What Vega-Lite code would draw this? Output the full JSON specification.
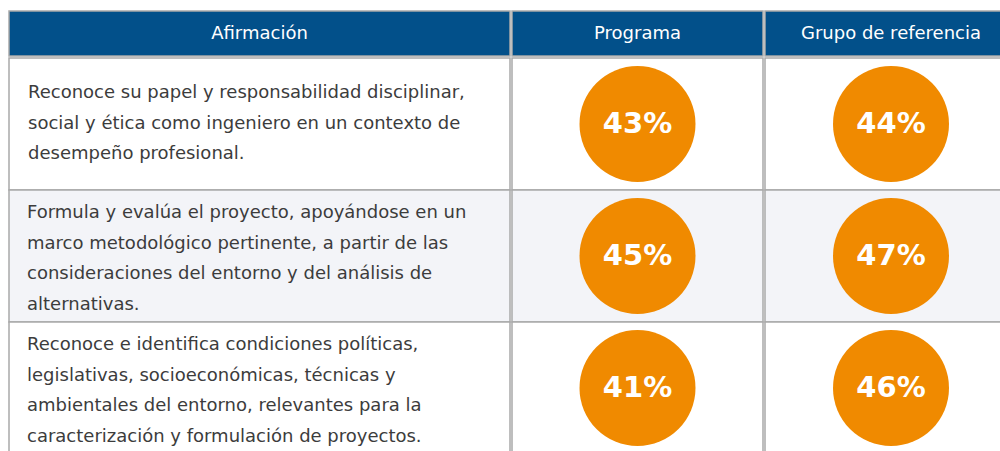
{
  "$schema": "https://vega.github.io/schema/vega-lite/v6.json",
  "padding": {"left": 8, "top": 10, "right": 0, "bottom": 0},
  "background": "#ffffff",
  "spacing": 0,
  "config": {"view": {"stroke": null}, "concat": {"spacing": 0}, "font": "DejaVu Sans"},
  "datasets": {
    "filas": [
      {"orden": 1, "lineas": 3, "afirmacion": "Reconoce su papel y responsabilidad disciplinar,\nsocial y ética como ingeniero en un contexto de\ndesempeño profesional.", "programa": 0.43, "grupo": 0.44},
      {"orden": 2, "lineas": 4, "afirmacion": "Formula y evalúa el proyecto, apoyándose en un\nmarco metodológico pertinente, a partir de las\nconsideraciones del entorno y del análisis de\nalternativas.", "programa": 0.45, "grupo": 0.47},
      {"orden": 3, "lineas": 4, "afirmacion": "Reconoce e identifica condiciones políticas,\nlegislativas, socioeconómicas, técnicas y\nambientales del entorno, relevantes para la\ncaracterización y formulación de proyectos.", "programa": 0.41, "grupo": 0.46}
    ]
  },
  "vconcat": [
    {
      "hconcat": [
        {
          "width": 501, "height": 45,
          "data": {"values": [{"titulo": "Afirmación"}]},
          "layer": [
            {"mark": {"type": "rect", "fill": "#02508a", "stroke": "#a9a9a9", "strokeWidth": 1.5}, "encoding": {"x": {"value": 0}, "x2": {"value": "width"}, "y": {"value": 0}, "y2": {"value": "height"}}},
            {"mark": {"type": "text", "color": "#ffffff", "fontSize": 18, "baseline": "middle", "align": "center"}, "encoding": {"text": {"field": "titulo"}, "y": {"value": 23}}}
          ]
        },
        {
          "width": 251, "height": 45,
          "data": {"values": [{"titulo": "Programa"}]},
          "layer": [
            {"mark": {"type": "rect", "fill": "#02508a", "stroke": "#a9a9a9", "strokeWidth": 1.5}, "encoding": {"x": {"value": 0}, "x2": {"value": "width"}, "y": {"value": 0}, "y2": {"value": "height"}}},
            {"mark": {"type": "text", "color": "#ffffff", "fontSize": 18, "baseline": "middle", "align": "center"}, "encoding": {"text": {"field": "titulo"}, "y": {"value": 23}}}
          ]
        },
        {
          "width": 240, "height": 45,
          "data": {"values": [{"titulo": "Grupo de referencia"}]},
          "layer": [
            {"mark": {"type": "rect", "fill": "#02508a", "stroke": "#a9a9a9", "strokeWidth": 1.5}, "encoding": {"x": {"value": 0}, "x2": {"value": "width"}, "y": {"value": 0}, "y2": {"value": "height"}}},
            {"mark": {"type": "text", "color": "#ffffff", "fontSize": 18, "baseline": "middle", "align": "center", "dx": 6}, "encoding": {"text": {"field": "titulo"}, "y": {"value": 23}}}
          ]
        }
      ]
    },
    {
      "hconcat": [
        {
          "width": 501, "height": 396,
          "data": {"name": "filas"},
          "encoding": {"y": {"field": "orden", "type": "ordinal", "axis": null, "scale": {"paddingInner": 0, "paddingOuter": 0}}},
          "layer": [
            {"mark": {"type": "rect", "stroke": "#a9a9a9", "strokeWidth": 1.5}, "encoding": {"x": {"value": 0}, "x2": {"value": "width"}, "fill": {"condition": {"test": "datum.orden == 2", "value": "#f3f4f8"}, "value": "#ffffff"}}},
            {"transform": [{"filter": "datum.lineas == 3"}], "mark": {"type": "text", "color": "#3c3c3c", "fontSize": 18, "align": "left", "baseline": "middle", "lineBreak": "\n", "lineHeight": 30.5, "dy": -31}, "encoding": {"x": {"value": 19}, "text": {"field": "afirmacion"}}},
            {"transform": [{"filter": "datum.lineas == 4"}], "mark": {"type": "text", "color": "#3c3c3c", "fontSize": 18, "align": "left", "baseline": "middle", "lineBreak": "\n", "lineHeight": 30.5, "dy": -43}, "encoding": {"x": {"value": 18}, "text": {"field": "afirmacion"}}}
          ]
        },
        {
          "width": 251, "height": 396,
          "data": {"name": "filas"},
          "encoding": {"y": {"field": "orden", "type": "ordinal", "axis": null, "scale": {"paddingInner": 0, "paddingOuter": 0}}},
          "layer": [
            {"mark": {"type": "rect", "stroke": "#a9a9a9", "strokeWidth": 1.5}, "encoding": {"x": {"value": 0}, "x2": {"value": "width"}, "fill": {"condition": {"test": "datum.orden == 2", "value": "#f3f4f8"}, "value": "#ffffff"}}},
            {"mark": {"type": "point", "shape": "circle", "filled": true, "size": 13456, "color": "#f08a00", "opacity": 1}, "encoding": {}},
            {"mark": {"type": "text", "color": "#ffffff", "fontSize": 29, "fontWeight": "bold", "baseline": "middle", "align": "center"}, "encoding": {"text": {"field": "programa", "type": "quantitative", "format": ".0%"}}}
          ]
        },
        {
          "width": 240, "height": 396,
          "data": {"name": "filas"},
          "encoding": {"y": {"field": "orden", "type": "ordinal", "axis": null, "scale": {"paddingInner": 0, "paddingOuter": 0}}},
          "layer": [
            {"mark": {"type": "rect", "stroke": "#a9a9a9", "strokeWidth": 1.5}, "encoding": {"x": {"value": 0}, "x2": {"value": "width"}, "fill": {"condition": {"test": "datum.orden == 2", "value": "#f3f4f8"}, "value": "#ffffff"}}},
            {"mark": {"type": "point", "shape": "circle", "filled": true, "size": 13456, "color": "#f08a00", "opacity": 1}, "encoding": {"xOffset": {"value": 6}}},
            {"mark": {"type": "text", "color": "#ffffff", "fontSize": 29, "fontWeight": "bold", "baseline": "middle", "align": "center", "dx": 6}, "encoding": {"text": {"field": "grupo", "type": "quantitative", "format": ".0%"}}}
          ]
        }
      ]
    }
  ]
}
